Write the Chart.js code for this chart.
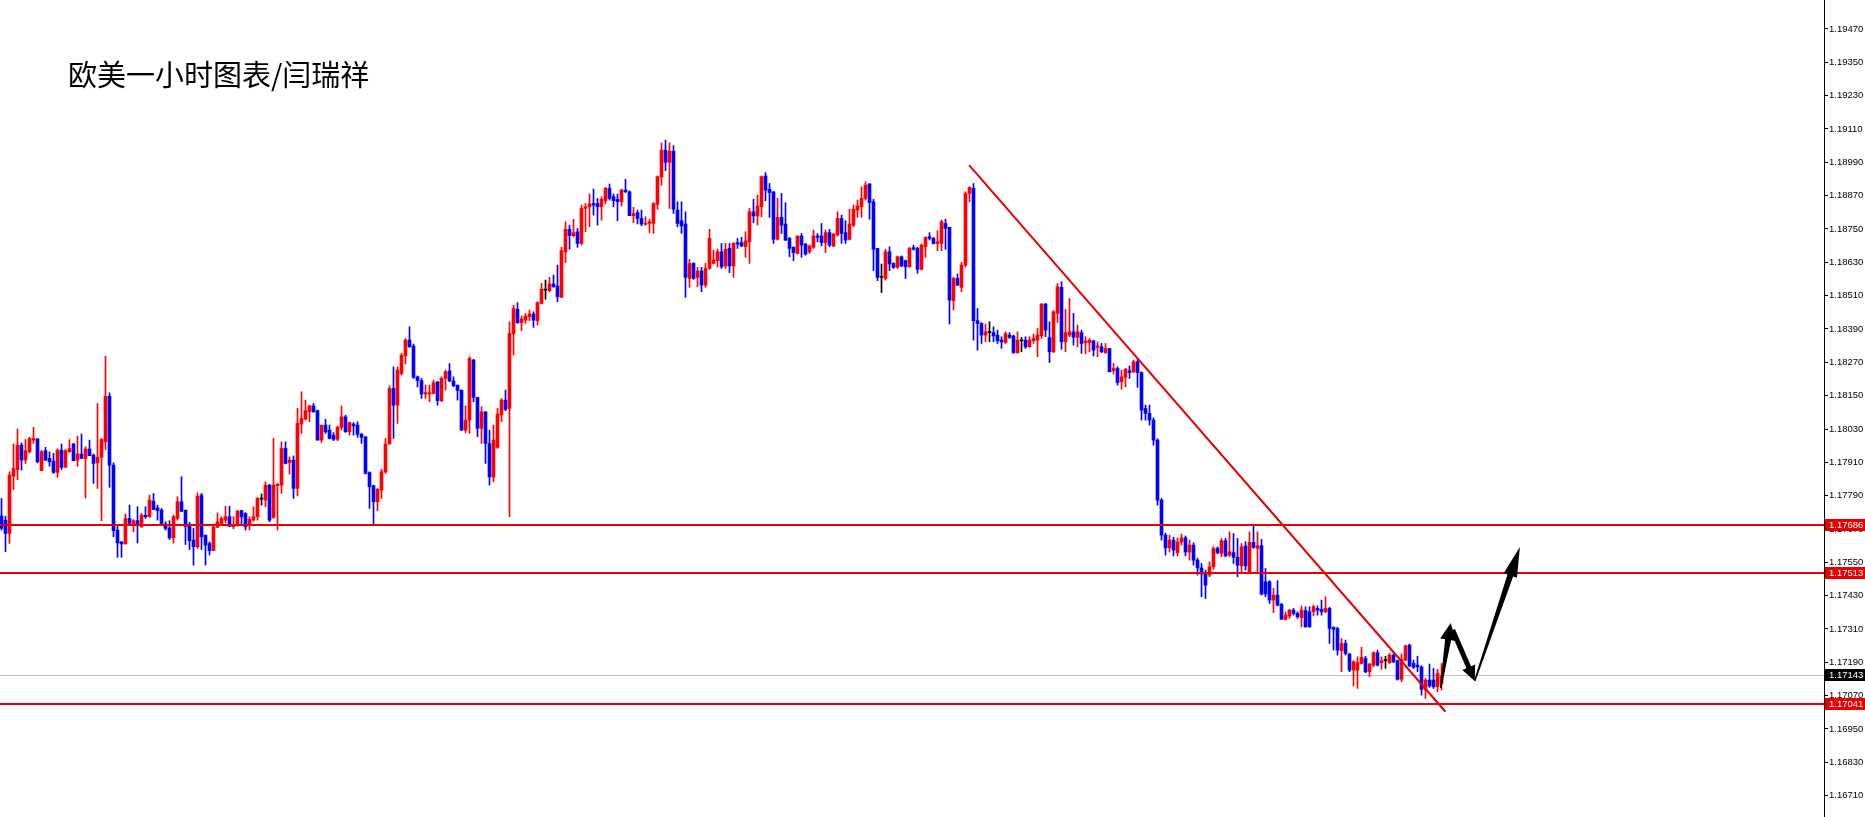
<!DOCTYPE html>
<html>
<head>
<meta charset="utf-8">
<script src="https://cdn.jsdelivr.net/npm/chart.js@4/dist/chart.umd.min.js"></script>
<style>
  html, body { margin: 0; padding: 0; background: #fff; overflow: hidden; }
</style>
</head>
<body>
<canvas id="chart" width="1865" height="817"></canvas>
<script>
// EURUSD 1H candles
const titleText = '欧美一小时图表/闫瑞祥';

const openP = [
  1.17717,1.17702,1.17654,1.17860,1.17884,1.17972,1.17918,1.17948,1.17990,1.17994,
  1.17880,1.17952,1.17924,1.17914,1.17874,1.17954,1.17892,1.17948,1.17976,1.17918,
  1.17940,1.17924,1.17958,1.17936,1.17908,1.17928,1.17984,1.18148,1.17900,1.17666,
  1.17624,1.17616,1.17708,1.17690,1.17700,1.17678,1.17720,1.17714,1.17770,1.17746,
  1.17738,1.17688,1.17674,1.17638,1.17708,1.17768,1.17738,1.17684,1.17630,1.17606,
  1.17792,1.17648,1.17618,1.17592,1.17676,1.17690,1.17702,1.17714,1.17678,1.17684,
  1.17736,1.17726,1.17684,1.17702,1.17714,1.17778,1.17774,1.17828,1.17712,1.17826,
  1.17828,1.17960,1.17909,1.17918,1.17816,1.18048,1.18066,1.18092,1.18113,1.18096,
  1.17990,1.18044,1.18026,1.18008,1.17993,1.18036,1.18074,1.18020,1.18048,1.18044,
  1.18011,1.18002,1.17873,1.17826,1.17768,1.17810,1.17876,1.17976,1.18176,1.18116,
  1.18230,1.18293,1.18350,1.18329,1.18218,1.18204,1.18156,1.18156,1.18158,1.18200,
  1.18132,1.18212,1.18239,1.18203,1.18188,1.18170,1.18026,1.18062,1.18278,1.18144,
  1.18032,1.18092,1.17978,1.17856,1.17964,1.18080,1.18134,1.18104,1.18372,1.18461,
  1.18413,1.18422,1.18434,1.18444,1.18420,1.18482,1.18530,1.18528,1.18552,1.18545,
  1.18504,1.18668,1.18749,1.18726,1.18740,1.18698,1.18824,1.18830,1.18842,1.18842,
  1.18830,1.18852,1.18896,1.18866,1.18857,1.18848,1.18890,1.18884,1.18798,1.18809,
  1.18788,1.18767,1.18770,1.18770,1.18839,1.18937,1.19034,1.18990,1.19030,1.18818,
  1.18780,1.18768,1.18572,1.18626,1.18576,1.18599,1.18548,1.18608,1.18626,1.18636,
  1.18668,1.18617,1.18680,1.18617,1.18701,1.18701,1.18686,1.18704,1.18812,1.18797,
  1.18830,1.18941,1.18893,1.18884,1.18713,1.18792,1.18768,1.18716,1.18684,1.18662,
  1.18725,1.18696,1.18668,1.18684,1.18725,1.18725,1.18701,1.18737,1.18689,1.18728,
  1.18788,1.18737,1.18713,1.18764,1.18818,1.18830,1.18860,1.18912,1.18848,1.18680,
  1.18576,1.18572,1.18668,1.18626,1.18612,1.18650,1.18636,1.18614,1.18683,1.18680,
  1.18605,1.18686,1.18722,1.18716,1.18698,1.18698,1.18770,1.18756,1.18492,1.18572,
  1.18540,1.18620,1.18878,1.18896,1.18420,1.18410,1.18368,1.18377,1.18377,1.18368,
  1.18350,1.18341,1.18368,1.18365,1.18305,1.18347,1.18350,1.18326,1.18348,1.18350,
  1.18365,1.18480,1.18360,1.18308,1.18446,1.18540,1.18344,1.18368,1.18380,1.18360,
  1.18377,1.18341,1.18341,1.18347,1.18324,1.18326,1.18305,1.18320,1.18240,1.18248,
  1.18200,1.18216,1.18240,1.18236,1.18272,1.18233,1.18104,1.18086,1.18062,1.17990,
  1.17774,1.17648,1.17602,1.17630,1.17584,1.17623,1.17638,1.17587,1.17612,1.17558,
  1.17530,1.17508,1.17504,1.17534,1.17600,1.17582,1.17628,1.17576,1.17585,1.17568,
  1.17537,1.17609,1.17516,1.17622,1.17600,1.17610,1.17480,1.17480,1.17414,1.17432,
  1.17399,1.17345,1.17357,1.17378,1.17366,1.17351,1.17376,1.17372,1.17372,1.17384,
  1.17381,1.17372,1.17384,1.17316,1.17312,1.17232,1.17258,1.17220,1.17162,1.17162,
  1.17186,1.17204,1.17156,1.17180,1.17225,1.17189,1.17196,1.17189,1.17216,1.17196,
  1.17129,1.17198,1.17252,1.17186,1.17180,1.17174,1.17090,1.17126,1.17126,1.17102,
  1.17114
];
const highP = [
  1.17780,1.17716,1.17876,1.17976,1.18030,1.17980,1.17992,1.18000,1.18036,1.17996,
  1.17954,1.17964,1.17948,1.17942,1.17958,1.17976,1.17956,1.17992,1.17978,1.18004,
  1.18012,1.17966,1.17990,1.17940,1.18122,1.17996,1.18292,1.18160,1.17908,1.17680,
  1.17624,1.17724,1.17756,1.17704,1.17750,1.17726,1.17750,1.17792,1.17798,1.17756,
  1.17744,1.17696,1.17700,1.17720,1.17786,1.17858,1.17738,1.17694,1.17672,1.17800,
  1.17798,1.17648,1.17624,1.17680,1.17728,1.17714,1.17752,1.17752,1.17714,1.17738,
  1.17738,1.17729,1.17714,1.17750,1.17783,1.17796,1.17840,1.17831,1.17996,1.17834,
  1.17984,1.17984,1.17930,1.17933,1.18104,1.18164,1.18134,1.18116,1.18122,1.18098,
  1.18044,1.18065,1.18044,1.18017,1.18041,1.18113,1.18080,1.18056,1.18053,1.18056,
  1.18014,1.18002,1.17876,1.17828,1.17816,1.17885,1.17996,1.18185,1.18254,1.18254,
  1.18302,1.18356,1.18398,1.18336,1.18221,1.18212,1.18188,1.18188,1.18206,1.18200,
  1.18218,1.18242,1.18266,1.18218,1.18188,1.18170,1.18113,1.18290,1.18281,1.18144,
  1.18110,1.18092,1.18026,1.18044,1.18104,1.18140,1.18170,1.18416,1.18476,1.18485,
  1.18437,1.18446,1.18458,1.18452,1.18488,1.18554,1.18566,1.18576,1.18584,1.18620,
  1.18684,1.18776,1.18764,1.18785,1.18752,1.18836,1.18842,1.18876,1.18894,1.18860,
  1.18866,1.18900,1.18912,1.18876,1.18876,1.18894,1.18929,1.18887,1.18828,1.18818,
  1.18818,1.18794,1.18785,1.18845,1.18941,1.19060,1.19070,1.19060,1.19050,1.18848,
  1.18848,1.18812,1.18641,1.18629,1.18612,1.18612,1.18626,1.18749,1.18674,1.18678,
  1.18698,1.18698,1.18698,1.18701,1.18716,1.18720,1.18740,1.18824,1.18857,1.18872,
  1.18941,1.18953,1.18914,1.18884,1.18861,1.18878,1.18845,1.18720,1.18686,1.18725,
  1.18734,1.18698,1.18692,1.18746,1.18734,1.18770,1.18746,1.18749,1.18734,1.18812,
  1.18800,1.18780,1.18821,1.18836,1.18854,1.18902,1.18920,1.18914,1.18857,1.18680,
  1.18624,1.18677,1.18686,1.18629,1.18653,1.18653,1.18638,1.18684,1.18692,1.18684,
  1.18696,1.18722,1.18737,1.18720,1.18744,1.18782,1.18785,1.18756,1.18576,1.18588,
  1.18630,1.18884,1.18902,1.18914,1.18464,1.18413,1.18408,1.18416,1.18398,1.18386,
  1.18362,1.18380,1.18377,1.18368,1.18380,1.18360,1.18362,1.18362,1.18372,1.18392,
  1.18482,1.18482,1.18416,1.18456,1.18554,1.18560,1.18461,1.18500,1.18446,1.18404,
  1.18386,1.18362,1.18356,1.18350,1.18344,1.18338,1.18338,1.18320,1.18266,1.18254,
  1.18242,1.18248,1.18257,1.18278,1.18284,1.18236,1.18116,1.18116,1.18070,1.17995,
  1.17780,1.17655,1.17648,1.17640,1.17638,1.17652,1.17645,1.17630,1.17620,1.17565,
  1.17546,1.17522,1.17552,1.17606,1.17606,1.17636,1.17636,1.17660,1.17654,1.17636,
  1.17618,1.17624,1.17660,1.17688,1.17660,1.17633,1.17528,1.17484,1.17456,1.17484,
  1.17402,1.17372,1.17381,1.17384,1.17372,1.17393,1.17390,1.17390,1.17396,1.17393,
  1.17414,1.17426,1.17388,1.17318,1.17316,1.17276,1.17270,1.17222,1.17196,1.17210,
  1.17244,1.17212,1.17186,1.17228,1.17234,1.17210,1.17212,1.17222,1.17222,1.17198,
  1.17220,1.17252,1.17256,1.17198,1.17212,1.17177,1.17132,1.17184,1.17168,1.17165,
  1.17186
];
const lowP = [
  1.17666,1.17588,1.17618,1.17812,1.17848,1.17882,1.17906,1.17944,1.17978,1.17908,
  1.17880,1.17916,1.17896,1.17870,1.17856,1.17884,1.17892,1.17946,1.17916,1.17896,
  1.17924,1.17782,1.17934,1.17834,1.17816,1.17700,1.17956,1.17820,1.17642,1.17568,
  1.17568,1.17616,1.17690,1.17660,1.17620,1.17676,1.17708,1.17712,1.17740,1.17702,
  1.17690,1.17666,1.17632,1.17620,1.17702,1.17732,1.17614,1.17596,1.17540,1.17600,
  1.17596,1.17540,1.17576,1.17592,1.17676,1.17684,1.17692,1.17678,1.17671,1.17680,
  1.17688,1.17666,1.17666,1.17699,1.17702,1.17756,1.17750,1.17696,1.17708,1.17666,
  1.17798,1.17904,1.17868,1.17780,1.17789,1.18014,1.18062,1.18056,1.18090,1.17990,
  1.17981,1.18014,1.17994,1.17988,1.17988,1.18026,1.18018,1.18008,1.18008,1.18000,
  1.17978,1.17868,1.17744,1.17688,1.17736,1.17780,1.17870,1.17976,1.17996,1.18050,
  1.18224,1.18264,1.18324,1.18212,1.18182,1.18140,1.18140,1.18128,1.18156,1.18116,
  1.18128,1.18170,1.18200,1.18182,1.18134,1.18024,1.18017,1.18014,1.18128,1.18002,
  1.17978,1.17906,1.17828,1.17840,1.17960,1.18056,1.18096,1.17714,1.18296,1.18410,
  1.18384,1.18410,1.18420,1.18396,1.18404,1.18480,1.18497,1.18524,1.18540,1.18488,
  1.18504,1.18629,1.18677,1.18722,1.18684,1.18692,1.18740,1.18758,1.18800,1.18764,
  1.18782,1.18840,1.18854,1.18830,1.18780,1.18832,1.18881,1.18798,1.18773,1.18768,
  1.18761,1.18763,1.18737,1.18734,1.18821,1.18908,1.18960,1.18824,1.18806,1.18758,
  1.18734,1.18504,1.18540,1.18569,1.18542,1.18524,1.18540,1.18605,1.18624,1.18614,
  1.18608,1.18608,1.18593,1.18576,1.18680,1.18686,1.18648,1.18626,1.18773,1.18764,
  1.18794,1.18852,1.18792,1.18698,1.18710,1.18734,1.18708,1.18650,1.18636,1.18660,
  1.18648,1.18656,1.18662,1.18680,1.18704,1.18689,1.18665,1.18686,1.18686,1.18725,
  1.18698,1.18698,1.18710,1.18758,1.18792,1.18792,1.18854,1.18785,1.18600,1.18564,
  1.18521,1.18566,1.18600,1.18608,1.18608,1.18614,1.18572,1.18612,1.18674,1.18590,
  1.18602,1.18648,1.18710,1.18696,1.18672,1.18672,1.18677,1.18408,1.18458,1.18546,
  1.18524,1.18614,1.18848,1.18350,1.18314,1.18338,1.18344,1.18344,1.18344,1.18338,
  1.18320,1.18338,1.18356,1.18302,1.18302,1.18308,1.18320,1.18324,1.18338,1.18290,
  1.18356,1.18362,1.18269,1.18305,1.18413,1.18317,1.18308,1.18362,1.18332,1.18326,
  1.18302,1.18300,1.18308,1.18293,1.18290,1.18305,1.18302,1.18236,1.18228,1.18188,
  1.18173,1.18182,1.18212,1.18233,1.18180,1.18062,1.18062,1.18044,1.17972,1.17756,
  1.17630,1.17576,1.17587,1.17573,1.17573,1.17612,1.17573,1.17558,1.17540,1.17504,
  1.17426,1.17420,1.17498,1.17525,1.17580,1.17570,1.17570,1.17570,1.17546,1.17498,
  1.17516,1.17522,1.17513,1.17600,1.17516,1.17432,1.17426,1.17402,1.17369,1.17393,
  1.17345,1.17342,1.17348,1.17360,1.17348,1.17318,1.17316,1.17316,1.17357,1.17360,
  1.17360,1.17369,1.17258,1.17234,1.17216,1.17156,1.17216,1.17156,1.17105,1.17096,
  1.17184,1.17152,1.17138,1.17174,1.17177,1.17165,1.17168,1.17186,1.17189,1.17126,
  1.17120,1.17196,1.17174,1.17168,1.17156,1.17072,1.17060,1.17100,1.17096,1.17084,
  1.17090
];
const closeP = [
  1.17672,1.17654,1.17864,1.17888,1.17972,1.17918,1.17952,1.17996,1.17996,1.17912,
  1.17948,1.17918,1.17912,1.17874,1.17954,1.17892,1.17952,1.17960,1.17916,1.17940,
  1.17924,1.17958,1.17934,1.17906,1.17928,1.17992,1.18148,1.17900,1.17664,1.17620,
  1.17616,1.17708,1.17690,1.17700,1.17684,1.17720,1.17714,1.17774,1.17740,1.17736,
  1.17690,1.17672,1.17638,1.17714,1.17768,1.17734,1.17678,1.17628,1.17606,1.17788,
  1.17642,1.17612,1.17592,1.17678,1.17696,1.17708,1.17714,1.17680,1.17684,1.17734,
  1.17714,1.17678,1.17705,1.17714,1.17780,1.17778,1.17828,1.17702,1.17828,1.17831,
  1.17960,1.17906,1.17918,1.17816,1.18050,1.18068,1.18096,1.18113,1.18092,1.17990,
  1.18044,1.18020,1.17996,1.17993,1.18036,1.18074,1.18020,1.18053,1.18041,1.18011,
  1.18000,1.17870,1.17822,1.17768,1.17813,1.17876,1.17976,1.18176,1.18116,1.18242,
  1.18296,1.18350,1.18326,1.18216,1.18204,1.18156,1.18161,1.18161,1.18197,1.18132,
  1.18212,1.18236,1.18203,1.18186,1.18168,1.18026,1.18062,1.18284,1.18144,1.18032,
  1.18092,1.17978,1.17858,1.17990,1.18084,1.18134,1.18101,1.18374,1.18464,1.18413,
  1.18426,1.18437,1.18444,1.18422,1.18485,1.18533,1.18530,1.18552,1.18542,1.18506,
  1.18672,1.18749,1.18726,1.18737,1.18698,1.18824,1.18830,1.18840,1.18836,1.18830,
  1.18857,1.18896,1.18860,1.18852,1.18848,1.18890,1.18884,1.18798,1.18806,1.18788,
  1.18768,1.18770,1.18776,1.18842,1.18938,1.19034,1.18990,1.19030,1.18821,1.18770,
  1.18761,1.18576,1.18626,1.18572,1.18599,1.18548,1.18608,1.18716,1.18638,1.18668,
  1.18614,1.18677,1.18617,1.18698,1.18696,1.18689,1.18707,1.18812,1.18797,1.18833,
  1.18938,1.18890,1.18881,1.18713,1.18792,1.18764,1.18710,1.18680,1.18665,1.18725,
  1.18692,1.18660,1.18689,1.18725,1.18720,1.18701,1.18737,1.18692,1.18732,1.18788,
  1.18734,1.18710,1.18768,1.18821,1.18833,1.18860,1.18908,1.18845,1.18677,1.18576,
  1.18576,1.18668,1.18624,1.18612,1.18650,1.18617,1.18614,1.18680,1.18677,1.18605,
  1.18692,1.18720,1.18716,1.18698,1.18704,1.18776,1.18752,1.18494,1.18572,1.18548,
  1.18620,1.18878,1.18900,1.18420,1.18410,1.18368,1.18380,1.18377,1.18365,1.18348,
  1.18344,1.18374,1.18360,1.18305,1.18350,1.18347,1.18326,1.18350,1.18356,1.18368,
  1.18480,1.18386,1.18308,1.18452,1.18542,1.18344,1.18377,1.18380,1.18360,1.18380,
  1.18338,1.18347,1.18350,1.18314,1.18329,1.18308,1.18320,1.18236,1.18248,1.18197,
  1.18218,1.18245,1.18233,1.18272,1.18233,1.18098,1.18086,1.18062,1.17990,1.17774,
  1.17648,1.17602,1.17630,1.17594,1.17623,1.17638,1.17587,1.17612,1.17558,1.17530,
  1.17508,1.17468,1.17534,1.17600,1.17585,1.17628,1.17573,1.17588,1.17568,1.17540,
  1.17606,1.17537,1.17622,1.17604,1.17610,1.17436,1.17436,1.17414,1.17432,1.17396,
  1.17345,1.17360,1.17378,1.17366,1.17354,1.17378,1.17318,1.17318,1.17390,1.17378,
  1.17372,1.17384,1.17312,1.17309,1.17234,1.17258,1.17222,1.17162,1.17192,1.17189,
  1.17208,1.17156,1.17184,1.17225,1.17180,1.17196,1.17196,1.17216,1.17192,1.17129,
  1.17201,1.17249,1.17177,1.17172,1.17174,1.17093,1.17126,1.17105,1.17102,1.17150,
  1.17143
];

// price axis labels
const tickValues = [
  1.16710,1.16830,1.16950,1.17070,1.17190,1.17310,1.17430,1.17550,1.17670,1.17790,
  1.17910,1.18030,1.18150,1.18270,1.18390,1.18510,1.18630,1.18750,1.18870,1.18990,
  1.19110,1.19230,1.19350,1.19470,1.19590
];

// drawn objects: horizontal levels, current price, trend line, hand arrows (bar index, price)
const levelLines = [1.17686, 1.17513, 1.17041];
const lastPrice = 1.17143;
const trendLine = [[241.9, 1.18980], [361.0, 1.17012]];
const arrows = [
  [[359.8, 1.17098], [362.3, 1.17332]],
  [[362.8, 1.17306], [368.3, 1.17123]],
  [[368.3, 1.17123], [379.6, 1.17605]]
];

const BULL = '#ff0000', BEAR = '#0000ff', DOJI = '#000000';
const AXIS_FONT = '9.5px "Liberation Sans"';
const idx = openP.map((_, i) => i);
const colorOf = i => closeP[i] > openP[i] ? BULL : (closeP[i] < openP[i] ? BEAR : DOJI);
const candleColors = idx.map(colorOf);

function drawArrow(ctx, x0, y0, x1, y1, w0, w1, headLen, headHalf) {
  const dx = x1 - x0, dy = y1 - y0, len = Math.hypot(dx, dy);
  const ux = dx / len, uy = dy / len, nx = -uy, ny = ux;
  const bx = x1 - ux * headLen, by = y1 - uy * headLen;
  ctx.beginPath();
  ctx.moveTo(x0 + nx * w0 / 2, y0 + ny * w0 / 2);
  ctx.lineTo(bx + nx * w1 / 2, by + ny * w1 / 2);
  ctx.lineTo(bx + nx * headHalf, by + ny * headHalf);
  ctx.lineTo(x1, y1);
  ctx.lineTo(bx - nx * headHalf, by - ny * headHalf);
  ctx.lineTo(bx - nx * w1 / 2, by - ny * w1 / 2);
  ctx.lineTo(x0 - nx * w0 / 2, y0 - ny * w0 / 2);
  ctx.closePath();
  ctx.fill();
}

const overlay = {
  id: 'overlay',
  beforeDatasetsDraw(chart) {
    const { ctx, chartArea: a, scales: { y } } = chart;
    const py = Math.round(y.getPixelForValue(lastPrice)) + 0.5;
    ctx.save();
    ctx.strokeStyle = '#c0c0c0';
    ctx.lineWidth = 1;
    ctx.beginPath();
    ctx.moveTo(a.left, py);
    ctx.lineTo(a.right, py);
    ctx.stroke();
    ctx.restore();
  },
  afterDatasetsDraw(chart) {
    const { ctx, chartArea: a, scales: { x, y } } = chart;
    ctx.save();
    ctx.strokeStyle = '#e60000';
    ctx.lineWidth = 2;
    levelLines.forEach(v => {
      const py = Math.round(y.getPixelForValue(v));
      ctx.beginPath();
      ctx.moveTo(a.left, py);
      ctx.lineTo(a.right, py);
      ctx.stroke();
    });
    ctx.beginPath();
    ctx.moveTo(x.getPixelForValue(trendLine[0][0]), y.getPixelForValue(trendLine[0][1]));
    ctx.lineTo(x.getPixelForValue(trendLine[1][0]), y.getPixelForValue(trendLine[1][1]));
    ctx.stroke();

    ctx.fillStyle = '#000';
    const sizes = [[1.5, 6, 17, 8], [5, 5, 15, 7], [1.5, 6, 30, 7]];
    arrows.forEach((ar, i) => {
      const s = sizes[i];
      drawArrow(ctx,
        x.getPixelForValue(ar[0][0]), y.getPixelForValue(ar[0][1]),
        x.getPixelForValue(ar[1][0]), y.getPixelForValue(ar[1][1]),
        s[0], s[1], s[2], s[3]);
    });
    ctx.restore();
  },
  afterDraw(chart) {
    const { ctx, scales: { y } } = chart;
    ctx.save();
    ctx.fillStyle = '#000';
    ctx.font = '29px "Noto Sans CJK SC"';
    ctx.textBaseline = 'middle';
    ctx.textAlign = 'left';
    ctx.fillText(titleText, 68, 75);

    ctx.font = AXIS_FONT;
    const tag = (v, bg) => {
      const py = Math.round(y.getPixelForValue(v));
      ctx.fillStyle = bg;
      ctx.fillRect(y.left + 1, py - 6, 44, 12);
      ctx.fillStyle = '#fff';
      ctx.fillText(v.toFixed(5), y.left + 5, py + 0.5);
    };
    levelLines.forEach(v => tag(v, '#e60000'));
    tag(lastPrice, '#000');
    ctx.restore();
  }
};

new Chart(document.getElementById('chart'), {
  type: 'bar',
  data: {
    datasets: [
      {
        data: idx.map(i => ({ x: i, y: [lowP[i], highP[i]] })),
        backgroundColor: candleColors,
        barThickness: 1,
        grouped: false,
        order: 2
      },
      {
        data: idx.map(i => ({ x: i, y: [openP[i], closeP[i]] })),
        backgroundColor: candleColors,
        barThickness: 3,
        minBarLength: 1,
        grouped: false,
        order: 1
      }
    ]
  },
  options: {
    responsive: false,
    animation: false,
    layout: { padding: 0 },
    plugins: { legend: { display: false }, tooltip: { enabled: false }, title: { display: false } },
    scales: {
      x: { type: 'linear', min: -0.375, max: 455.625, offset: false, display: false },
      y: {
        position: 'right',
        min: 1.166332,
        max: 1.195744,
        afterBuildTicks: s => { s.ticks = tickValues.map(v => ({ value: v })); },
        afterFit: s => { s.width = 41; s.paddingTop = 0; s.paddingBottom = 0; },
        border: { display: true, color: '#000', width: 1 },
        grid: { drawOnChartArea: false, drawTicks: true, tickLength: 4, color: '#000' },
        ticks: {
          autoSkip: false,
          padding: 1,
          color: '#000',
          font: { family: 'Liberation Sans', size: 9.5 },
          callback: v => v.toFixed(5)
        }
      }
    }
  },
  plugins: [overlay]
});
</script>
</body>
</html>
